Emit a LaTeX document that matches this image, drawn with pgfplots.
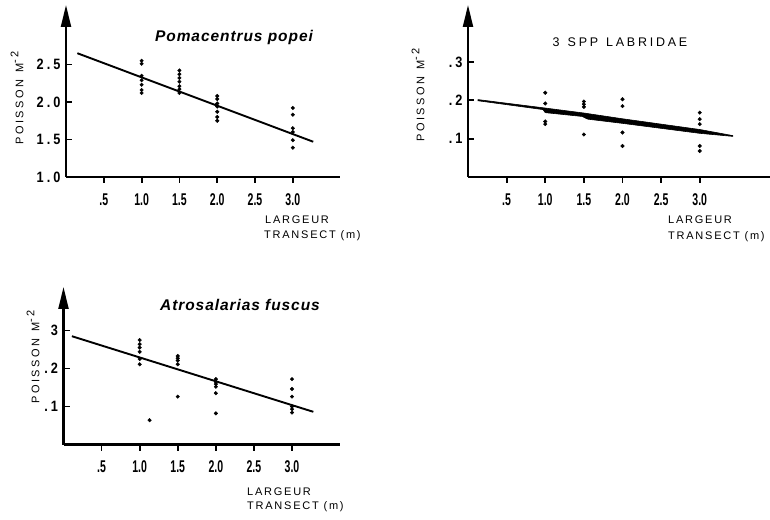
\documentclass[border=0pt]{standalone}
\usepackage{pgfplots}
\pgfplotsset{compat=1.18}
\usetikzlibrary{arrows.meta}
\usepackage{fontspec}
\setmainfont{Liberation Sans}
\newfontfamily\tickfont[FakeStretch=0.62]{Liberation Sans}
\newfontfamily\ytickfont[FakeStretch=0.85,LetterSpace=20]{Liberation Sans}
\newfontfamily\labfont[LetterSpace=16]{Liberation Sans}
\newfontfamily\ylabfont[LetterSpace=22]{Liberation Sans}
\newfontfamily\titfont[LetterSpace=6]{Liberation Sans}
\newfontfamily\labtitfont[LetterSpace=22]{Liberation Sans}
\pgfplotsset{
  panel/.style={
    scale only axis,
    axis x line*=bottom, axis y line*=left,
    x axis line style={-, line width=2.2pt},
    y axis line style={-{Triangle[length=22pt,width=10pt]}, line width=2.2pt},
    xtick align=outside, ytick align=inside, major tick length=6pt,
    every tick/.style={black, line width=1.8pt},
    xmin=0,
    xtick={0.5,1,1.5,2,2.5,3},
    xticklabels={.5,1.0,1.5,2.0,2.5,3.0},
    xticklabel style={font=\fontsize{17}{17}\selectfont\tickfont\bfseries, yshift=-7pt},
    yticklabel style={font=\fontsize{15}{15}\selectfont\ytickfont\bfseries, xshift=-2pt},
    clip=false,
  },
  reg/.style={black, line width=1.9pt, no marks},
  pts/.style={only marks, mark=*, mark size=1.8pt, black},
}
\newcommand\ylab{POISSON\hspace{7pt}M\raisebox{5pt}{-\,2}}
\begin{document}
\begin{tikzpicture}[x=1pt,y=1pt]
\useasboundingbox (0,0) rectangle (770,519);
% ---------------- Panel 1: Pomacentrus popei
\begin{axis}[panel, at={(66pt,342pt)}, anchor=south west,
  width=274pt, height=172pt, xmax=3.624, ymin=1, ymax=3.293,
  ytick={1,1.5,2,2.5}, yticklabels={1.0,1.5,2.0,2.5}]
\addplot[reg] coordinates {(0.15,2.65) (3.27,1.47)};
\addplot[pts] coordinates {
 (1,2.55) (1,2.51) (1,2.35) (1,2.29) (1,2.23) (1,2.16) (1,2.12)
 (1.5,2.42) (1.5,2.37) (1.5,2.32) (1.5,2.27) (1.5,2.21) (1.5,2.17) (1.5,2.12)
 (2,2.08) (2,2.04) (2,1.98) (2,1.94) (2,1.87) (2,1.80) (2,1.75)
 (3,1.92) (3,1.83) (3,1.65) (3,1.60) (3,1.49) (3,1.39)};
\end{axis}
% ---------------- Panel 2: 3 SPP LABRIDAE
\begin{axis}[panel, at={(468pt,342pt)}, anchor=south west,
  width=302pt, height=172pt, xmax=3.91, ymin=0, ymax=0.449,
  ytick={0.1,0.2,0.3}, yticklabels={.1,.2,.3}]
\addplot[black, fill=black, line width=0.6pt] coordinates {
 (0.13,0.202) (1.0,0.180) (1.5,0.167) (2.0,0.152) (3.0,0.124) (3.43,0.108)
 (3.43,0.106) (3.0,0.114) (2.0,0.140) (1.55,0.151) (1.48,0.158) (1.0,0.168)
 (0.97,0.176) (0.13,0.199)} -- cycle;
\addplot[pts] coordinates {
 (1,0.220) (1,0.192) (1,0.145) (1,0.138)
 (1.5,0.197) (1.5,0.190) (1.5,0.183) (1.5,0.111)
 (2,0.203) (2,0.185) (2,0.116) (2,0.081)
 (3,0.168) (3,0.151) (3,0.138) (3,0.081) (3,0.068)};
\end{axis}
% ---------------- Panel 3: Atrosalarias fuscus
\begin{axis}[panel, at={(63.5pt,74.5pt)}, anchor=south west,
  width=276.5pt, height=157.5pt, xmax=3.63, ymin=0, ymax=0.4145,
  ytick={0.1,0.2,0.3}, yticklabels={.1,.2,3}]
\addplot[reg] coordinates {(0.11,0.285) (3.28,0.086)};
\addplot[pts] coordinates {
 (1,0.275) (1,0.264) (1,0.255) (1,0.244) (1,0.225) (1,0.211)
 (1.13,0.064)
 (1.5,0.233) (1.5,0.227) (1.5,0.221) (1.5,0.211) (1.5,0.126)
 (2,0.172) (2,0.165) (2,0.159) (2,0.152) (2,0.135) (2,0.082)
 (3,0.172) (3,0.146) (3,0.126) (3,0.100) (3,0.093) (3,0.084)};
\end{axis}
% ---------------- texts
\node[font=\fontsize{15.5}{15.5}\selectfont\titfont\bfseries\itshape] at (234,482) {Pomacentrus popei};
\node[font=\fontsize{12.5}{12.5}\selectfont\labtitfont] at (620,477) {3\hspace{8pt}SPP\hspace{8pt}LABRIDAE};
\node[font=\fontsize{15.5}{15.5}\selectfont\titfont\bfseries\itshape] at (240,214) {Atrosalarias fuscus};
% y labels
\node[rotate=90, font=\fontsize{11}{11}\selectfont\ylabfont] at (17,421) {\ylab};
\node[rotate=90, font=\fontsize{11}{11}\selectfont\ylabfont] at (418,424) {\ylab};
\node[rotate=90, font=\fontsize{11}{11}\selectfont\ylabfont] at (33,162) {\ylab};
% x labels
\begin{scope}[every node/.style={anchor=west, inner sep=0pt, font=\fontsize{11}{11}\selectfont\labfont}]
\node at (265,299) {LARGEUR};
\node at (264,283) {TRANSECT (m)};
\node at (668,299) {LARGEUR};
\node at (668,282) {TRANSECT (m)};
\node at (247,27) {LARGEUR};
\node at (247,12) {TRANSECT (m)};
\end{scope}
\end{tikzpicture}
\end{document}
